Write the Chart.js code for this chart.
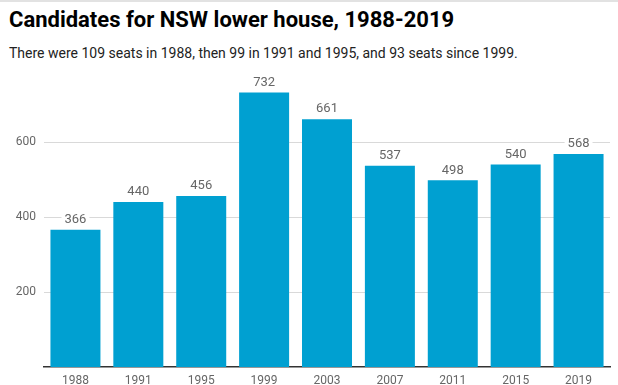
<!DOCTYPE html>
<html>
<head>
<meta charset="utf-8">
<script src="https://cdn.jsdelivr.net/npm/chart.js@4.4.1/dist/chart.umd.min.js"></script>
<style>
  html, body { margin: 0; padding: 0; background: #fff; }
  body { width: 618px; height: 385px; position: relative; overflow: hidden; font-family: Roboto, "Noto Sans", sans-serif; }
  .topline { position: absolute; left: 0; top: 0; width: 618px; height: 2px; background: #e2e2e2; }
  h1 { position: absolute; left: 9px; top: 7px; margin: 0; font-size: 22px; font-weight: 700; color: #000; }
  .sub { position: absolute; left: 9px; top: 45px; margin: 0; font-size: 14px; color: #222; }
  #wrap { position: absolute; left: 0; top: 0; width: 618px; height: 385px; }
</style>
</head>
<body>
<div class="topline"></div>
<h1>Candidates for NSW lower house, 1988-2019</h1>
<p class="sub">There were 109 seats in 1988, then 99 in 1991 and 1995, and 93 seats since 1999.</p>
<div id="wrap"><canvas id="chart" width="618" height="385"></canvas></div>
<script>
// Election years and candidate counts
const years = ['1988', '1991', '1995', '1999', '2003', '2007', '2011', '2015', '2019'];
const candidates = [366, 440, 456, 732, 661, 537, 498, 540, 568];
const yTicks = [200, 400, 600];

// Draw value labels above each bar, on a white box so gridlines are hidden behind
const valueLabels = {
    id: 'valueLabels',
    afterDatasetsDraw(chart) {
        const ctx = chart.ctx;
        const meta = chart.getDatasetMeta(0);
        ctx.save();
        ctx.font = '13px Roboto, sans-serif';
        ctx.textAlign = 'center';
        ctx.textBaseline = 'middle';
        meta.data.forEach((bar, i) => {
            const text = String(candidates[i]);
            const w = ctx.measureText(text).width + 6;
            const y = bar.y - 10;
            ctx.fillStyle = '#fff';
            ctx.fillRect(bar.x - w / 2, y - 7, w, 14);
            ctx.fillStyle = '#666';
            ctx.fillText(text, bar.x, y);
        });
        ctx.restore();
    }
};

new Chart(document.getElementById('chart'), {
    type: 'bar',
    data: {
        labels: years,
        datasets: [{
            data: candidates,
            backgroundColor: '#00a0d1',
            borderWidth: 0,
            barPercentage: 0.795,
            categoryPercentage: 1.0
        }]
    },
    options: {
        responsive: false,
        animation: false,
        layout: { padding: { top: 67, right: 8, left: 0, bottom: 0 } },
        plugins: {
            legend: { display: false },
            tooltip: { enabled: false }
        },
        scales: {
            x: {
                grid: { display: false, drawTicks: false },
                border: { display: true, color: '#333', width: 1.5 },
                ticks: { color: '#666', font: { size: 12, family: 'Roboto' }, padding: 7 },
                afterFit(scale) { scale.height = 18; }
            },
            y: {
                min: 0,
                max: 800,
                border: { display: false },
                grid: { color: '#d9d9d9', drawTicks: false, lineWidth: 1 },
                ticks: { color: '#666', font: { size: 12, family: 'Roboto' }, padding: 8 },
                afterBuildTicks(scale) { scale.ticks = yTicks.map(v => ({ value: v })); },
                afterFit(scale) { scale.width = 44; }
            }
        }
    },
    plugins: [valueLabels]
});
</script>
</body>
</html>
